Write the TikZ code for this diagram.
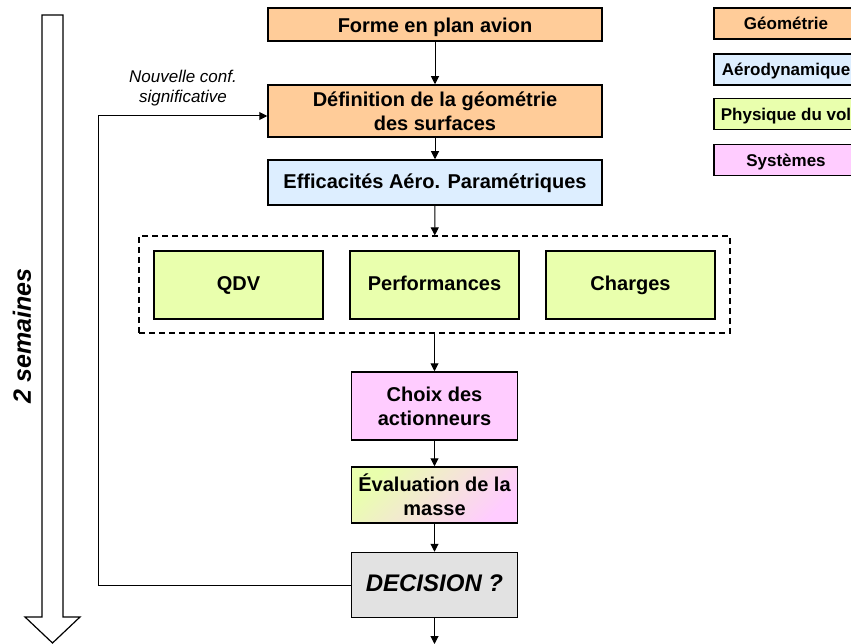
\documentclass[tikz,border=0pt]{standalone}
\usepackage{fontspec}
\setmainfont{Liberation Sans}
\usetikzlibrary{arrows.meta}

\definecolor{geo}{HTML}{FFCC99}
\definecolor{aero}{HTML}{DDEEFF}
\definecolor{vol}{HTML}{E9FFAD}
\definecolor{sys}{HTML}{FFCCFF}
\definecolor{deci}{HTML}{E2E2E2}

\begin{document}
\begin{tikzpicture}[x=1pt,y=-1pt,
  boite/.style={draw,line width=1.5pt,align=center,inner sep=0pt,
    font=\fontsize{20}{24}\selectfont\bfseries},
  uneligne/.style={text height=14.5pt,text depth=4.2pt},
  legende/.style={draw,line width=1.5pt,minimum width=144,minimum height=31,
    inner sep=0pt,text height=16pt,text depth=3.6pt,
    font=\fontsize{17}{20}\selectfont\bfseries},
  flux/.style={line width=1pt,-{Triangle[length=8pt,width=8pt]}}]
  \useasboundingbox (0,0) rectangle (851,644);
  \clip (0,0) rectangle (851,644);

  % chaine principale
  \node[boite,uneligne,text height=21pt,fill=geo,minimum width=334,minimum height=33] (forme) at (435,24.5) {Forme en plan avion};
  \node[boite,fill=geo,minimum width=334,minimum height=52] (defn) at (435,111) {Définition de la géométrie\\des surfaces};
  \node[boite,uneligne,text height=16.5pt,fill=aero,minimum width=334,minimum height=45] (effic) at (435,182.5) {Efficacités Aéro. Paramétriques};
  \node[draw,dashed,line width=1.2pt,dash pattern=on 6pt off 4pt,minimum width=591,minimum height=97] (grp) at (434.5,284.5) {};
  \node[boite,uneligne,fill=vol,minimum width=169,minimum height=68] (qdv) at (238.5,285) {QDV};
  \node[boite,uneligne,fill=vol,minimum width=169,minimum height=68] (perf) at (434.5,285) {Performances};
  \node[boite,uneligne,fill=vol,minimum width=169,minimum height=68] (charges) at (630.5,285) {Charges};
  \node[boite,fill=sys,minimum width=166,minimum height=68] (choix) at (434.5,406) {Choix des\\actionneurs};
  \node[boite,top color=vol,bottom color=sys,shading angle=45,minimum width=166,minimum height=56] (masse) at (434.5,495) {Évaluation de la\\masse};
  \node[boite,fill=deci,minimum width=166,minimum height=65,text height=17.2pt,text depth=5pt,
    font=\fontsize{24}{28}\selectfont\bfseries\itshape] (decision) at (434.5,585) {DECISION ?};
  \coordinate (sortie) at (434.5,644);
  \coordinate (retour) at (98,116);

  \draw[flux] (forme) -- (defn);
  \draw[flux] (defn) -- (effic);
  \draw[flux] (effic) -- (grp);
  \draw[flux] (grp) -- (choix);
  \draw[flux] (choix) -- (masse);
  \draw[flux] (masse) -- (decision);
  \draw[flux] (decision) -- (sortie);
  \draw[flux] (decision.west) -| (retour) -- (retour -| defn.west);
  \node[align=center,font=\fontsize{17}{20}\selectfont\itshape] (nouv) at (183,88) {Nouvelle conf.\\significative};

  % legende
  \node[legende,fill=geo] (lgeo) at (786,23.5) {Géométrie};
  \node[legende,fill=aero] (laero) at (786,69.5) {Aérodynamique};
  \node[legende,fill=vol] (lvol) at (786,114) {Physique du vol};
  \node[legende,fill=sys] (lsys) at (786,160) {Systèmes};

  % fleche du temps
  \draw[line width=1.2pt,fill=white] (42,15) -- (63,15) -- (63,617) -- (80,617)
    -- (52.5,643) -- (25,617) -- (42,617) -- cycle;
  \node[rotate=90,font=\fontsize{25}{30}\selectfont\bfseries\itshape] (duree) at (22,336) {2 semaines};
\end{tikzpicture}
\end{document}
